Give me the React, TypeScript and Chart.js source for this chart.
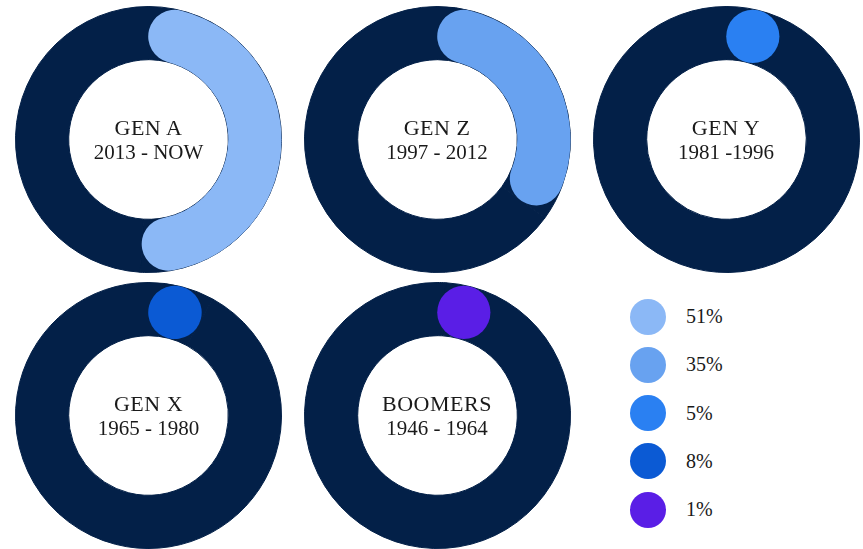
import React, { useEffect, useRef } from "react";
import { Chart, registerables } from "chart.js";

Chart.register(...registerables);

// ---- data ----
const generations = ["GEN A", "GEN Z", "GEN Y", "GEN X", "BOOMERS"];
const yearRanges = ["2013 - NOW", "1997 - 2012", "1981 -1996", "1965 - 1980", "1946 - 1964"];
const shares = [51, 35, 5, 8, 1];
const legendLabels = ["51%", "35%", "5%", "8%", "1%"];
const highlightColors = ["#8bb8f6", "#68a2f0", "#2a80f2", "#0b5ad4", "#5a1ee6"];
const trackColor = "#032048";

// ---- layout ----
const COL_X = [148.5, 437, 726];
const ROW_Y = [139, 415];
const BOX = 267;
const FONT = "'Liberation Serif', 'Times New Roman', serif";

const roundCapPlugin = {
  id: "roundCap",
  afterDatasetsDraw(chart: any, _args: any, opts: any) {
    const meta = chart.getDatasetMeta(0);
    const el = meta.data[0];
    if (!el) return;
    const { x, y, startAngle, endAngle, innerRadius, outerRadius } = el.getProps(
      ["x", "y", "startAngle", "endAngle", "innerRadius", "outerRadius"],
      true
    );
    const mid = (innerRadius + outerRadius) / 2;
    const half = (outerRadius - innerRadius) / 2;
    const cap = half / mid;
    const a0 = startAngle + cap;
    const a1 = Math.max(a0, endAngle - cap);
    const ctx = chart.ctx;
    ctx.save();
    ctx.fillStyle = opts.color;
    ctx.strokeStyle = opts.color;
    if (a1 - a0 < 0.001) {
      ctx.beginPath();
      ctx.arc(x + mid * Math.cos(a0), y + mid * Math.sin(a0), half, 0, Math.PI * 2);
      ctx.fill();
    } else {
      ctx.lineWidth = half * 2;
      ctx.lineCap = "round";
      ctx.beginPath();
      ctx.arc(x, y, mid, a0, a1);
      ctx.stroke();
    }
    ctx.restore();
  },
};

function Donut({ index }: { index: number }) {
  const ref = useRef<HTMLCanvasElement>(null);
  useEffect(() => {
    if (!ref.current) return;
    const chart = new Chart(ref.current, {
      type: "doughnut",
      data: {
        labels: [generations[index], "rest"],
        datasets: [
          {
            data: [shares[index], 100 - shares[index]],
            backgroundColor: [trackColor, trackColor],
            borderColor: trackColor,
            borderWidth: 1,
          },
        ],
      },
      options: {
        responsive: true,
        maintainAspectRatio: false,
        animation: false,
        events: [],
        cutout: "60%",
        layout: { padding: 0 },
        plugins: {
          legend: { display: false },
          tooltip: { enabled: false },
          roundCap: { color: highlightColors[index] },
        } as any,
      },
      plugins: [roundCapPlugin],
    });
    return () => chart.destroy();
  }, [index]);

  const cx = COL_X[index % 3];
  const cy = ROW_Y[Math.floor(index / 3)];
  return (
    <>
      <div
        style={{
          position: "absolute",
          left: cx - BOX / 2,
          top: cy - BOX / 2,
          width: BOX,
          height: BOX,
        }}
      >
        <canvas ref={ref} />
      </div>
      <div
        style={{
          position: "absolute",
          left: cx - 80,
          width: 160,
          top: cy - 22,
          textAlign: "center",
          fontFamily: FONT,
          color: "#1a1a1a",
          whiteSpace: "nowrap",
        }}
      >
        <div style={{ fontSize: 22, lineHeight: "22px", letterSpacing: 0.5 }}>{generations[index]}</div>
        <div style={{ fontSize: 21, lineHeight: "21px", marginTop: 3 }}>{yearRanges[index]}</div>
      </div>
    </>
  );
}

export default function App() {
  return (
    <div
      style={{
        position: "absolute",
        left: 0,
        top: 0,
        width: 863,
        height: 549,
        background: "#ffffff",
        overflow: "hidden",
      }}
    >
      {generations.map((_, i) => (
        <Donut key={i} index={i} />
      ))}
      {legendLabels.map((lab, i) => (
        <div
          key={lab}
          style={{
            position: "absolute",
            left: 630,
            top: 316.5 + i * 48.3 - 18,
            height: 36,
            display: "flex",
            alignItems: "center",
            fontFamily: FONT,
            fontSize: 20,
            color: "#1a1a1a",
          }}
        >
          <div
            style={{
              width: 36,
              height: 36,
              borderRadius: "50%",
              background: highlightColors[i],
              marginRight: 20,
            }}
          />
          <span>{lab}</span>
        </div>
      ))}
    </div>
  );
}
